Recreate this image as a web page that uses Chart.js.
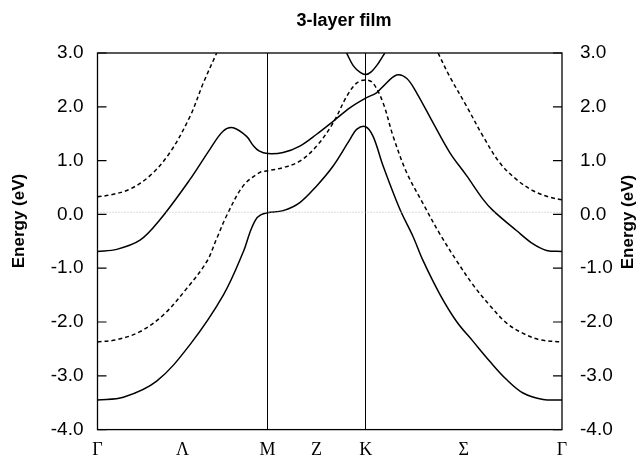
<!DOCTYPE html>
<html>
<head>
<meta charset="utf-8">
<script src="https://cdn.jsdelivr.net/npm/chart.js@4/dist/chart.umd.min.js"></script>
<style>
html,body{margin:0;padding:0;background:#fff;}
canvas{display:block;}
</style>
</head>
<body>
<canvas id="c" width="642" height="459"></canvas>
<script>
// ---- text ----
const chartTitle = '3-layer film';
const axisTitle = 'Energy (eV)';

// ---- k-path tick positions and labels (hexagonal BZ: Γ-M = 1, M-K = 1/√3, K-Γ = 2/√3) ----
const kTicks  = [0, 0.5, 1, 1.2887, 1.5774, 2.1547, 2.7321];
const kLabels = ['Γ', 'Λ', 'M', 'Z', 'K', 'Σ', 'Γ'];
const symLineIdx = [2, 4]; // vertical lines at M and K

// ---- energy axis ----
const eMin = -4, eMax = 3, eStep = 1;
const fermiLevel = 0.04;

// ---- bands (solid) ----
const bandA_k = [0, 0.152, 0.348, 0.544, 0.740, 0.857, 0.897, 0.93, 0.96, 1.0, 1.092, 1.190, 1.289, 1.386, 1.484, 1.524, 1.577, 1.621, 1.680, 1.778, 1.857, 1.915, 2.013, 2.112, 2.209, 2.307, 2.406, 2.503, 2.621, 2.732];
const bandA_E = [-3.45, -3.40, -3.10, -2.42, -1.50, -0.70, -0.33, -0.10, -0.01, 0.03, 0.07, 0.22, 0.53, 0.90, 1.39, 1.58, 1.63, 1.45, 0.90, 0.10, -0.42, -0.86, -1.48, -1.99, -2.36, -2.73, -3.07, -3.32, -3.44, -3.45];

const bandC_k = [0, 0.113, 0.250, 0.367, 0.544, 0.661, 0.740, 0.798, 0.877, 0.916, 0.95, 1.0, 1.092, 1.190, 1.289, 1.386, 1.484, 1.577, 1.641, 1.680, 1.759, 1.818, 1.877, 1.974, 2.072, 2.171, 2.268, 2.327, 2.464, 2.562, 2.641, 2.732];
const bandC_E = [-0.69, -0.65, -0.48, -0.10, 0.65, 1.21, 1.55, 1.61, 1.45, 1.28, 1.18, 1.13, 1.15, 1.27, 1.49, 1.73, 1.98, 2.16, 2.26, 2.38, 2.59, 2.53, 2.26, 1.70, 1.15, 0.72, 0.28, 0.07, -0.30, -0.55, -0.67, -0.69];

const bandE_k = [1.465, 1.505, 1.545, 1.577, 1.61, 1.65, 1.69];
const bandE_E = [3.0, 2.76, 2.64, 2.60, 2.65, 2.80, 3.0];

// ---- bands (dashed) ----
const bandB_k = [0, 0.113, 0.250, 0.387, 0.524, 0.642, 0.701, 0.760, 0.857, 0.955, 1.0, 1.092, 1.190, 1.289, 1.386, 1.465, 1.524, 1.577, 1.621, 1.680, 1.739, 1.818, 1.915, 2.013, 2.112, 2.209, 2.307, 2.406, 2.503, 2.601, 2.732];
const bandB_E = [-2.37, -2.33, -2.18, -1.87, -1.38, -0.88, -0.45, -0.02, 0.53, 0.78, 0.81, 0.87, 0.99, 1.27, 1.70, 2.19, 2.44, 2.50, 2.44, 2.07, 1.45, 0.78, 0.20, -0.36, -0.86, -1.31, -1.69, -2.02, -2.21, -2.33, -2.37];

const bandD1_k = [0, 0.073, 0.191, 0.309, 0.426, 0.544, 0.622, 0.701];
const bandD1_E = [0.33, 0.36, 0.47, 0.72, 1.15, 1.82, 2.44, 3.0];
const bandD2_k = [2.003, 2.072, 2.171, 2.268, 2.366, 2.464, 2.562, 2.660, 2.732];
const bandD2_E = [3.0, 2.56, 2.01, 1.45, 0.96, 0.65, 0.44, 0.32, 0.27];

// ---- helpers ----
const pts = (ks, es) => ks.map((k, i) => ({x: k, y: es[i]}));
const solid = (ks, es) => ({data: pts(ks, es), borderColor: '#000', borderWidth: 1.5, pointRadius: 0, tension: 0.35, fill: false});
const dashed = (ks, es) => Object.assign(solid(ks, es), {borderDash: [4, 3]});

const datasets = [
  {data: pts([kTicks[0], kTicks[kTicks.length - 1]], [fermiLevel, fermiLevel]), borderColor: '#b8b8b8', borderWidth: 1, borderDash: [1, 2], pointRadius: 0, fill: false},
  solid(bandA_k, bandA_E),
  solid(bandC_k, bandC_E),
  solid(bandE_k, bandE_E),
  dashed(bandB_k, bandB_E),
  dashed(bandD1_k, bandD1_E),
  dashed(bandD2_k, bandD2_E)
];

const decor = {
  id: 'decor',
  afterDatasetsDraw(chart) {
    const ctx = chart.ctx, a = chart.chartArea;
    ctx.save();
    ctx.strokeStyle = '#000';
    ctx.lineWidth = 1.3;
    ctx.strokeRect(a.left, a.top, a.right - a.left, a.bottom - a.top);
    // inward tick marks on both energy axes
    const ys = chart.scales.y;
    ctx.lineWidth = 1.2;
    ys.ticks.forEach(t => {
      const y = ys.getPixelForValue(t.value);
      ctx.beginPath();
      ctx.moveTo(a.left, y); ctx.lineTo(a.left + 9, y);
      ctx.moveTo(a.right - 9, y); ctx.lineTo(a.right, y);
      ctx.stroke();
    });
    ctx.restore();
  },
  afterDraw(chart) {
    const ctx = chart.ctx;
    ctx.save();
    ctx.fillStyle = '#000';
    ctx.textAlign = 'center';
    ctx.textBaseline = 'middle';
    ctx.font = 'bold 18px "Liberation Sans", Arial, sans-serif';
    ctx.fillText(chartTitle, 344, 21);
    ctx.font = 'bold 17px "Liberation Sans", Arial, sans-serif';
    [[19, 221], [628, 222]].forEach(([x, y]) => {
      ctx.save();
      ctx.translate(x, y);
      ctx.rotate(-Math.PI / 2);
      ctx.fillText(axisTitle, 0, 0);
      ctx.restore();
    });
    ctx.restore();
  }
};

const yTickCfg = {
  stepSize: eStep,
  color: '#000',
  font: {family: '"Liberation Sans", Arial, sans-serif', size: 19},
  callback: v => v.toFixed(1)
};

new Chart(document.getElementById('c'), {
  type: 'line',
  data: {datasets},
  options: {
    responsive: false,
    animation: false,
    devicePixelRatio: 1,
    layout: {padding: {top: 53, left: 0, right: 0, bottom: 0}},
    plugins: {legend: {display: false}, tooltip: {enabled: false}, title: {display: false}},
    scales: {
      x: {
        type: 'linear',
        position: 'bottom',
        min: kTicks[0],
        max: kTicks[kTicks.length - 1],
        afterBuildTicks: s => { s.ticks = kTicks.map(v => ({value: v})); },
        afterFit: s => { s.height = 27; },
        ticks: {
          autoSkip: false,
          maxRotation: 0,
          padding: 10,
          color: '#000',
          font: {family: '"Liberation Serif", "Times New Roman", serif', size: 18},
          callback: (v, i) => kLabels[i]
        },
        grid: {
          drawTicks: false,
          lineWidth: 1,
          color: c => symLineIdx.includes(c.index) ? '#000' : 'rgba(0,0,0,0)'
        },
        border: {display: false}
      },
      y: {
        type: 'linear',
        position: 'left',
        min: eMin, max: eMax,
        afterFit: s => { s.width = 97.5; },
        ticks: Object.assign({padding: 14}, yTickCfg),
        grid: {display: false, drawTicks: false},
        border: {display: false}
      },
      y2: {
        type: 'linear',
        position: 'right',
        min: eMin, max: eMax,
        afterFit: s => { s.width = 80; },
        ticks: Object.assign({padding: 18}, yTickCfg),
        grid: {display: false, drawTicks: false},
        border: {display: false}
      }
    }
  },
  plugins: [decor]
});
</script>
</body>
</html>
